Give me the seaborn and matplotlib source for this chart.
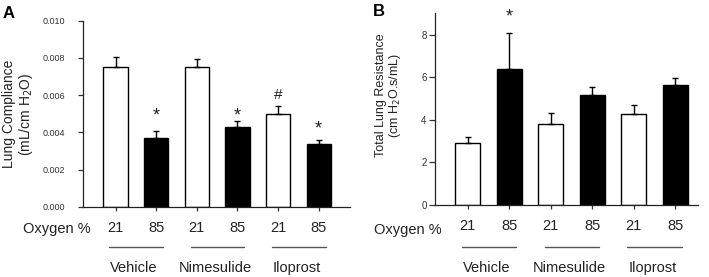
import numpy as np
import pandas as pd
import matplotlib
matplotlib.use("Agg")
import matplotlib.pyplot as plt
import matplotlib.transforms as mtransforms
import seaborn as sns

# ---- data ----
groups = ["Vehicle", "Nimesulide", "Iloprost"]
oxygen = ["21", "85"]
compliance = [0.0075, 0.0037, 0.0075, 0.0043, 0.0050, 0.0034]
compliance_err = [0.00053, 0.0004, 0.00045, 0.0003, 0.0004, 0.0002]
resistance = [2.90, 6.38, 3.78, 5.14, 4.25, 5.61]
resistance_err = [0.28, 1.70, 0.52, 0.38, 0.42, 0.36]
# significance marks: (bar index, symbol, y)
marks_a = [(1, "*", 0.0049), (3, "*", 0.0049), (4, "#", 0.0060), (5, "*", 0.0042)]
marks_b = [(1, "*", 8.85)]

sns.set_theme(style="ticks")
plt.rcParams["font.family"] = ["Liberation Sans", "DejaVu Sans"]
TXT = "#222222"

cats = [f"{g} {o}" for g in groups for o in oxygen]
colors = ["white", "black"] * len(groups)


def panel(ax, vals, errs, marks, ylim, yticks, yfmt, ylabel, xlim, label_x, label_y,
          ylab_fs, ytick_fs, ytick_pad, ytick_len, oxy_y, line_y, grp_y, letter, letter_xy, fig):
    df = pd.DataFrame({"cat": cats, "val": vals})
    sns.barplot(data=df, x="cat", y="val", hue="cat", palette=dict(zip(cats, colors)),
                edgecolor="black", linewidth=1.0, width=0.6, errorbar=None,
                legend=False, ax=ax, zorder=2)
    x = np.arange(len(cats))
    ax.errorbar(x, vals, yerr=[np.zeros(len(vals)), errs], fmt="none",
                ecolor="black", elinewidth=1.0, capsize=2.5, capthick=1.0, zorder=3)
    ax.set_ylim(*ylim)
    ax.set_xlim(*xlim)
    ax.set_yticks(yticks)
    ax.set_yticklabels([yfmt.format(t) for t in yticks], fontsize=ytick_fs, color="#333333")
    ax.tick_params(axis="y", length=ytick_len, width=0.9, pad=ytick_pad, colors="#333333")
    ax.set_xticks(x)
    ax.set_xticklabels([o for g in groups for o in oxygen], fontsize=10.5, color=TXT)
    ax.tick_params(axis="x", length=3, width=0.9, pad=7, colors="#333333")
    for lab in ax.get_xticklabels():
        lab.set_color(TXT)
    ax.set_xlabel("")
    ax.set_ylabel(ylabel, fontsize=ylab_fs, color=TXT, linespacing=1.05)
    ax.yaxis.set_label_coords(label_x, label_y)
    for s in ["top", "right"]:
        ax.spines[s].set_visible(False)
    for s in ["left", "bottom"]:
        ax.spines[s].set_linewidth(0.9)
        ax.spines[s].set_color("#222222")
    for i, sym, yy in marks:
        ax.text(i, yy, sym, ha="center", va="center", fontsize=13 if sym == "*" else 11,
                color=TXT, clip_on=False)
    trans = mtransforms.blended_transform_factory(ax.transData, ax.transAxes)
    ax.text(-0.62, oxy_y, "Oxygen %", ha="right", va="center", fontsize=10.5,
            color=TXT, transform=trans)
    for gi, g in enumerate(groups):
        c0 = 2 * gi
        ax.plot([c0 - 0.15, c0 + 1.17], [line_y, line_y], color="#555555", lw=1.0,
                transform=trans, clip_on=False)
        ax.text(c0 + 0.45, grp_y, g, ha="center", va="center", fontsize=10.5,
                color=TXT, transform=trans)
    fig.text(letter_xy[0], letter_xy[1], letter, fontsize=12, fontweight="bold",
             color="black", ha="center", va="center")


fig = plt.figure(figsize=(7.09, 2.77), dpi=100)
W, H = 709, 277
axA = fig.add_axes([83 / W, 1 - 207 / H, (350 - 83) / W, (207 - 20.7) / H])
axB = fig.add_axes([435 / W, 1 - 204.7 / H, (698 - 435) / W, (204.7 - 13.3) / H])

panel(axA, compliance, compliance_err, marks_a, (0, 0.010),
      [0, 0.002, 0.004, 0.006, 0.008, 0.010], "{:.3f}",
      "Lung Compliance\n(mL/cm H$_2$O)", (-0.8, 5.77), -0.18, 0.5,
      10, 6.5, 9, 3.6, -0.118, -0.213, -0.327, "A", (9 / W, 1 - 13 / H), fig)
panel(axB, resistance, resistance_err, marks_b, (0, 9),
      [0, 2, 4, 6, 8], "{:.0f}",
      "Total Lung Resistance\n(cm H$_2$O.s/mL)", (-0.79, 5.55), -0.12, 0.57,
      9, 7, 2, 4, -0.132, -0.219, -0.331, "B", (379 / W, 1 - 11 / H), fig)

fig.savefig("out.png", dpi=100)
